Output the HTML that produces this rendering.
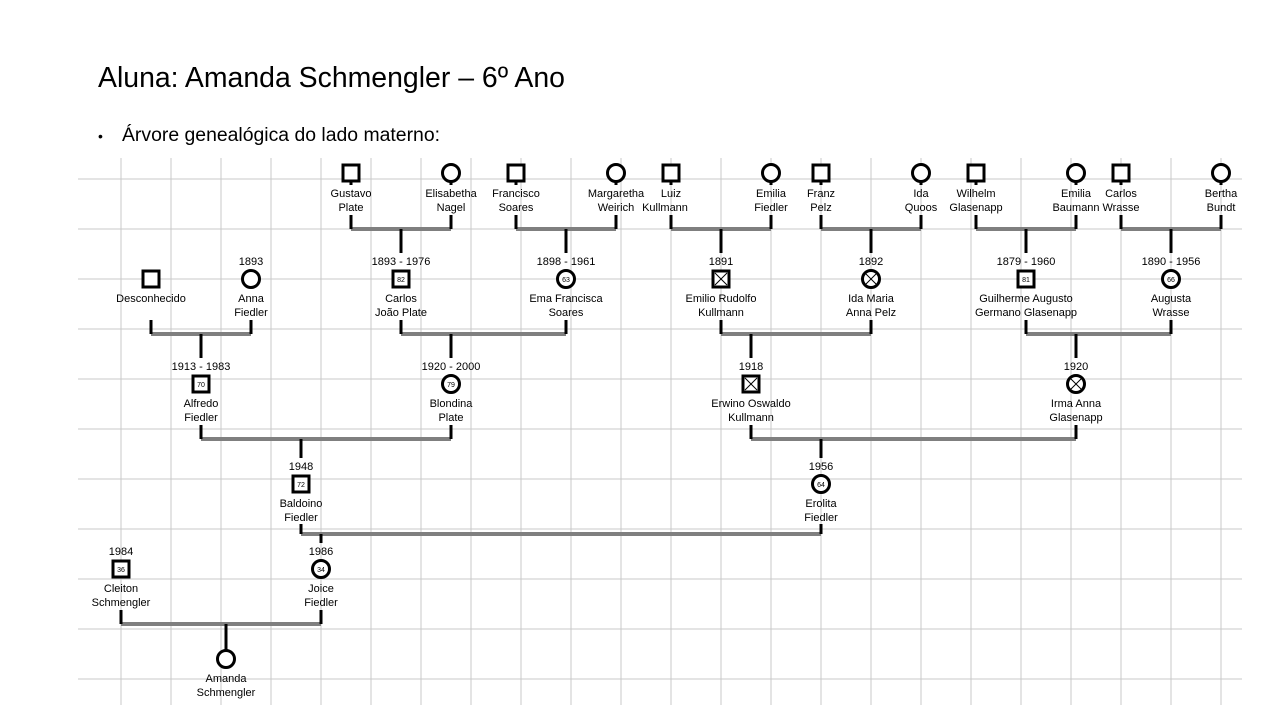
<!DOCTYPE html>
<html><head><meta charset="utf-8"><style>
html,body{margin:0;padding:0;background:#fff;}
svg{display:block;}
.t{font-family:"Liberation Sans",Arial,sans-serif;font-size:11px;fill:#000;text-anchor:middle;}
.n{font-family:"Liberation Sans",Arial,sans-serif;font-size:7px;fill:#000;text-anchor:middle;}
.g{stroke:#c8c8c8;stroke-width:1;}
.c{stroke:#7f7f7f;stroke-width:4;fill:none;}
.v{stroke:#000;stroke-width:3;fill:none;}
.sq{fill:#fff;stroke:#000;stroke-width:3;}
.x{stroke:#000;stroke-width:1;}
</style></head><body>
<svg width="1280" height="720" viewBox="0 0 1280 720" xmlns="http://www.w3.org/2000/svg">
<text x="98" y="87" font-family="Liberation Sans, Arial, sans-serif" font-size="29" textLength="467" lengthAdjust="spacingAndGlyphs">Aluna: Amanda Schmengler – 6º Ano</text>
<text x="98" y="141" font-family="Liberation Sans, Arial, sans-serif" font-size="14">•</text>
<text x="122" y="141" font-family="Liberation Sans, Arial, sans-serif" font-size="19" textLength="318" lengthAdjust="spacingAndGlyphs">Árvore genealógica do lado materno:</text>

<g class="g">
<line x1="78" y1="179" x2="1242" y2="179"/><line x1="78" y1="229" x2="1242" y2="229"/><line x1="78" y1="279" x2="1242" y2="279"/><line x1="78" y1="329" x2="1242" y2="329"/><line x1="78" y1="379" x2="1242" y2="379"/><line x1="78" y1="429" x2="1242" y2="429"/><line x1="78" y1="479" x2="1242" y2="479"/><line x1="78" y1="529" x2="1242" y2="529"/><line x1="78" y1="579" x2="1242" y2="579"/><line x1="78" y1="629" x2="1242" y2="629"/><line x1="78" y1="679" x2="1242" y2="679"/>
<line x1="121" y1="158" x2="121" y2="705"/><line x1="171" y1="158" x2="171" y2="705"/><line x1="221" y1="158" x2="221" y2="705"/><line x1="271" y1="158" x2="271" y2="705"/><line x1="321" y1="158" x2="321" y2="705"/><line x1="371" y1="158" x2="371" y2="705"/><line x1="421" y1="158" x2="421" y2="705"/><line x1="471" y1="158" x2="471" y2="705"/><line x1="521" y1="158" x2="521" y2="705"/><line x1="571" y1="158" x2="571" y2="705"/><line x1="621" y1="158" x2="621" y2="705"/><line x1="671" y1="158" x2="671" y2="705"/><line x1="721" y1="158" x2="721" y2="705"/><line x1="771" y1="158" x2="771" y2="705"/><line x1="821" y1="158" x2="821" y2="705"/><line x1="871" y1="158" x2="871" y2="705"/><line x1="921" y1="158" x2="921" y2="705"/><line x1="971" y1="158" x2="971" y2="705"/><line x1="1021" y1="158" x2="1021" y2="705"/><line x1="1071" y1="158" x2="1071" y2="705"/><line x1="1121" y1="158" x2="1121" y2="705"/><line x1="1171" y1="158" x2="1171" y2="705"/><line x1="1221" y1="158" x2="1221" y2="705"/>
</g>

<!-- couple lines -->
<g class="c">
<line x1="351" y1="229" x2="451" y2="229"/><line x1="516" y1="229" x2="616" y2="229"/><line x1="671" y1="229" x2="771" y2="229"/><line x1="821" y1="229" x2="921" y2="229"/><line x1="976" y1="229" x2="1076" y2="229"/><line x1="1121" y1="229" x2="1221" y2="229"/>
<line x1="151" y1="334" x2="251" y2="334"/><line x1="401" y1="334" x2="566" y2="334"/><line x1="721" y1="334" x2="871" y2="334"/><line x1="1026" y1="334" x2="1171" y2="334"/>
<line x1="201" y1="439" x2="451" y2="439"/><line x1="751" y1="439" x2="1076" y2="439"/>
<line x1="301" y1="534" x2="821" y2="534"/>
<line x1="121" y1="624" x2="321" y2="624"/>
</g>
<!-- vertical black lines -->
<g class="v">
<!-- gen1 up to couple -->
<line x1="351" y1="215" x2="351" y2="229"/><line x1="451" y1="215" x2="451" y2="229"/><line x1="516" y1="215" x2="516" y2="229"/><line x1="616" y1="215" x2="616" y2="229"/><line x1="671" y1="215" x2="671" y2="229"/><line x1="771" y1="215" x2="771" y2="229"/><line x1="821" y1="215" x2="821" y2="229"/><line x1="921" y1="215" x2="921" y2="229"/><line x1="976" y1="215" x2="976" y2="229"/><line x1="1076" y1="215" x2="1076" y2="229"/><line x1="1121" y1="215" x2="1121" y2="229"/><line x1="1221" y1="215" x2="1221" y2="229"/>
<!-- drops to gen2 -->
<line x1="401" y1="229" x2="401" y2="253"/><line x1="566" y1="229" x2="566" y2="253"/><line x1="721" y1="229" x2="721" y2="253"/><line x1="871" y1="229" x2="871" y2="253"/><line x1="1026" y1="229" x2="1026" y2="253"/><line x1="1171" y1="229" x2="1171" y2="253"/>
<!-- gen2 up -->
<line x1="151" y1="320" x2="151" y2="334"/><line x1="251" y1="320" x2="251" y2="334"/><line x1="401" y1="320" x2="401" y2="334"/><line x1="566" y1="320" x2="566" y2="334"/><line x1="721" y1="320" x2="721" y2="334"/><line x1="871" y1="320" x2="871" y2="334"/><line x1="1026" y1="320" x2="1026" y2="334"/><line x1="1171" y1="320" x2="1171" y2="334"/>
<line x1="201" y1="334" x2="201" y2="358"/><line x1="451" y1="334" x2="451" y2="358"/><line x1="751" y1="334" x2="751" y2="358"/><line x1="1076" y1="334" x2="1076" y2="358"/>
<!-- gen3 up -->
<line x1="201" y1="425" x2="201" y2="439"/><line x1="451" y1="425" x2="451" y2="439"/><line x1="751" y1="425" x2="751" y2="439"/><line x1="1076" y1="425" x2="1076" y2="439"/>
<line x1="301" y1="439" x2="301" y2="458"/><line x1="821" y1="439" x2="821" y2="458"/>
<!-- gen4 -->
<line x1="301" y1="524" x2="301" y2="534"/><line x1="821" y1="524" x2="821" y2="534"/>
<line x1="321" y1="534" x2="321" y2="543"/>
<!-- gen5 -->
<line x1="121" y1="610" x2="121" y2="624"/><line x1="321" y1="610" x2="321" y2="624"/>
<line x1="226" y1="624" x2="226" y2="650"/>
</g>

<!-- node stubs -->
<g class="v" stroke-width="2">
<line x1="351" y1="180" x2="351" y2="185"/><line x1="451" y1="180" x2="451" y2="185"/><line x1="516" y1="180" x2="516" y2="185"/><line x1="616" y1="180" x2="616" y2="185"/><line x1="671" y1="180" x2="671" y2="185"/><line x1="771" y1="180" x2="771" y2="185"/><line x1="821" y1="180" x2="821" y2="185"/><line x1="921" y1="180" x2="921" y2="185"/><line x1="976" y1="180" x2="976" y2="185"/><line x1="1076" y1="180" x2="1076" y2="185"/><line x1="1121" y1="180" x2="1121" y2="185"/><line x1="1221" y1="180" x2="1221" y2="185"/>
</g>

<!-- Gen 1 nodes (y=173) -->
<rect class="sq" x="343" y="165" width="16" height="16"/><circle class="sq" cx="451" cy="173" r="8.5"/>
<rect class="sq" x="508" y="165" width="16" height="16"/><circle class="sq" cx="616" cy="173" r="8.5"/>
<rect class="sq" x="663" y="165" width="16" height="16"/><circle class="sq" cx="771" cy="173" r="8.5"/>
<rect class="sq" x="813" y="165" width="16" height="16"/><circle class="sq" cx="921" cy="173" r="8.5"/>
<rect class="sq" x="968" y="165" width="16" height="16"/><circle class="sq" cx="1076" cy="173" r="8.5"/>
<rect class="sq" x="1113" y="165" width="16" height="16"/><circle class="sq" cx="1221" cy="173" r="8.5"/>
<text class="t" x="351" y="197">Gustavo</text><text class="t" x="351" y="211">Plate</text>
<text class="t" x="451" y="197">Elisabetha</text><text class="t" x="451" y="211">Nagel</text>
<text class="t" x="516" y="197">Francisco</text><text class="t" x="516" y="211">Soares</text>
<text class="t" x="616" y="197">Margaretha</text><text class="t" x="616" y="211">Weirich</text>
<text class="t" x="671" y="197">Luiz</text><text class="t" x="665" y="211">Kullmann</text>
<text class="t" x="771" y="197">Emilia</text><text class="t" x="771" y="211">Fiedler</text>
<text class="t" x="821" y="197">Franz</text><text class="t" x="821" y="211">Pelz</text>
<text class="t" x="921" y="197">Ida</text><text class="t" x="921" y="211">Quoos</text>
<text class="t" x="976" y="197">Wilhelm</text><text class="t" x="976" y="211">Glasenapp</text>
<text class="t" x="1076" y="197">Emilia</text><text class="t" x="1076" y="211">Baumann</text>
<text class="t" x="1121" y="197">Carlos</text><text class="t" x="1121" y="211">Wrasse</text>
<text class="t" x="1221" y="197">Bertha</text><text class="t" x="1221" y="211">Bundt</text>

<!-- Gen 2 (y=279) -->
<rect class="sq" x="143" y="271" width="16" height="16"/>
<text class="t" x="151" y="302">Desconhecido</text>
<circle class="sq" cx="251" cy="279" r="8.5"/>
<text class="t" x="251" y="265">1893</text><text class="t" x="251" y="302">Anna</text><text class="t" x="251" y="316">Fiedler</text>
<rect class="sq" x="393" y="271" width="16" height="16"/><text class="n" x="401" y="282">82</text>
<text class="t" x="401" y="265">1893 - 1976</text><text class="t" x="401" y="302">Carlos</text><text class="t" x="401" y="316">João Plate</text>
<circle class="sq" cx="566" cy="279" r="8.5"/><text class="n" x="566" y="282">63</text>
<text class="t" x="566" y="265">1898 - 1961</text><text class="t" x="566" y="302">Ema Francisca</text><text class="t" x="566" y="316">Soares</text>
<rect class="sq" x="713" y="271" width="16" height="16"/><line class="x" x1="715" y1="273" x2="727" y2="285"/><line class="x" x1="727" y1="273" x2="715" y2="285"/>
<text class="t" x="721" y="265">1891</text><text class="t" x="721" y="302">Emilio Rudolfo</text><text class="t" x="721" y="316">Kullmann</text>
<circle class="sq" cx="871" cy="279" r="8.5"/><line class="x" x1="865" y1="273" x2="877" y2="285"/><line class="x" x1="877" y1="273" x2="865" y2="285"/>
<text class="t" x="871" y="265">1892</text><text class="t" x="871" y="302">Ida Maria</text><text class="t" x="871" y="316">Anna Pelz</text>
<rect class="sq" x="1018" y="271" width="16" height="16"/><text class="n" x="1026" y="282">81</text>
<text class="t" x="1026" y="265">1879 - 1960</text><text class="t" x="1026" y="302">Guilherme Augusto</text><text class="t" x="1026" y="316">Germano Glasenapp</text>
<circle class="sq" cx="1171" cy="279" r="8.5"/><text class="n" x="1171" y="282">66</text>
<text class="t" x="1171" y="265">1890 - 1956</text><text class="t" x="1171" y="302">Augusta</text><text class="t" x="1171" y="316">Wrasse</text>

<!-- Gen 3 (y=384) -->
<rect class="sq" x="193" y="376" width="16" height="16"/><text class="n" x="201" y="387">70</text>
<text class="t" x="201" y="370">1913 - 1983</text><text class="t" x="201" y="407">Alfredo</text><text class="t" x="201" y="421">Fiedler</text>
<circle class="sq" cx="451" cy="384" r="8.5"/><text class="n" x="451" y="387">79</text>
<text class="t" x="451" y="370">1920 - 2000</text><text class="t" x="451" y="407">Blondina</text><text class="t" x="451" y="421">Plate</text>
<rect class="sq" x="743" y="376" width="16" height="16"/><line class="x" x1="745" y1="378" x2="757" y2="390"/><line class="x" x1="757" y1="378" x2="745" y2="390"/>
<text class="t" x="751" y="370">1918</text><text class="t" x="751" y="407">Erwino Oswaldo</text><text class="t" x="751" y="421">Kullmann</text>
<circle class="sq" cx="1076" cy="384" r="8.5"/><line class="x" x1="1070" y1="378" x2="1082" y2="390"/><line class="x" x1="1082" y1="378" x2="1070" y2="390"/>
<text class="t" x="1076" y="370">1920</text><text class="t" x="1076" y="407">Irma Anna</text><text class="t" x="1076" y="421">Glasenapp</text>

<!-- Gen 4 (y=484) -->
<rect class="sq" x="293" y="476" width="16" height="16"/><text class="n" x="301" y="487">72</text>
<text class="t" x="301" y="470">1948</text><text class="t" x="301" y="507">Baldoino</text><text class="t" x="301" y="521">Fiedler</text>
<circle class="sq" cx="821" cy="484" r="8.5"/><text class="n" x="821" y="487">64</text>
<text class="t" x="821" y="470">1956</text><text class="t" x="821" y="507">Erolita</text><text class="t" x="821" y="521">Fiedler</text>

<!-- Gen 5 (y=569) -->
<rect class="sq" x="113" y="561" width="16" height="16"/><text class="n" x="121" y="572">36</text>
<text class="t" x="121" y="555">1984</text><text class="t" x="121" y="592">Cleiton</text><text class="t" x="121" y="606">Schmengler</text>
<circle class="sq" cx="321" cy="569" r="8.5"/><text class="n" x="321" y="572">34</text>
<text class="t" x="321" y="555">1986</text><text class="t" x="321" y="592">Joice</text><text class="t" x="321" y="606">Fiedler</text>

<!-- Amanda -->
<circle class="sq" cx="226" cy="659" r="8.5"/>
<text class="t" x="226" y="682">Amanda</text><text class="t" x="226" y="696">Schmengler</text>
</svg>
</body></html>
